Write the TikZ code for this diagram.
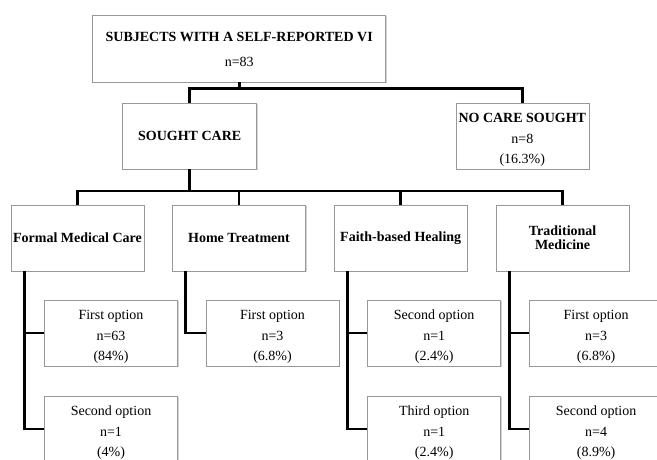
\documentclass[tikz,border=0pt]{standalone}
\usepackage{fontspec}
\setmainfont{Liberation Serif}
\usetikzlibrary{shadows}

% strut that pushes the first text line a bit down
\newcommand{\topgap}{\rule{0pt}{17pt}}

\begin{document}
\begin{tikzpicture}[x=1pt,y=-1pt,
    box/.style={draw=black!40, line width=0.6pt, fill=white, align=center,
      minimum width=133pt, minimum height=66pt, inner sep=0pt,
      font=\fontsize{14}{20.5}\selectfont,
      drop shadow={shadow xshift=1.2pt, shadow yshift=-1.2pt, fill=black!35, opacity=0.5}},
    conn/.style={line width=2.6pt, draw=black}]
    % Picture frame (pixels of the figure)
    \clip (0,0) rectangle (657,459);

    % Layout parameters
    \def\lv{238} % row of the care types
    \def\oa{333} % row of the first options
    \def\ob{429} % row of the second options
    \def\dx{33.5} % shift of an option box from its care type
    \def\vx{13.5} % shift of a branch line from the box edge

    % Top of the tree
    \node[box, minimum width=293pt, minimum height=67pt] (subj) at (239.2,48.5)
      {\rule{0pt}{11.5pt}\textbf{SUBJECTS WITH A SELF-REPORTED VI}\\[4pt]n=83};
    \node[box, minimum width=134pt] (sought) at (189.7,136) {\textbf{SOUGHT CARE}};
    \node[box] (nocare) at (522.3,136) {\topgap\textbf{NO CARE SOUGHT}\\n=8\\(16.3\%)};

    % Types of care
    \node[box] (formal) at (77.5,\lv) {\textbf{Formal Medical Care}};
    \node[box] (home) at (239,\lv) {\textbf{Home Treatment}};
    \node[box] (faith) at (400.7,\lv) {\textbf{Faith-based Healing}};
    \node[box] (trad) at (562.6,\lv) {\textbf{Traditional}\\[-6.5pt]\textbf{Medicine}};

    % Options under each type
    \node[box] (formalA) at (77.5+\dx,\oa) {\topgap First option\\n=63\\(84\%)};
    \node[box] (formalB) at (77.5+\dx,\ob) {\topgap Second option\\n=1\\(4\%)};
    \node[box] (homeA) at (239+\dx,\oa) {\topgap First option\\n=3\\(6.8\%)};
    \node[box] (faithA) at (400.7+\dx,\oa) {\topgap Second option\\n=1\\(2.4\%)};
    \node[box] (faithB) at (400.7+\dx,\ob) {\topgap Third option\\n=1\\(2.4\%)};
    \node[box] (tradA) at (562.6+\dx,\oa) {\topgap First option\\n=3\\(6.8\%)};
    \node[box] (tradB) at (562.6+\dx,\ob) {\topgap Second option\\n=4\\(8.9\%)};

    % Bus lines
    \coordinate (bus1) at (0,88.5);
    \coordinate (bus2) at (0,191);

    % First split
    \draw[conn] (subj.south) -- (subj.south |- bus1);
    \draw[conn] (sought.north) -- (sought.north |- bus1) -| (nocare.north);

    % Second split
    \draw[conn] (sought.south) -- (sought.south |- bus2);
    \draw[conn] (formal.north) -- (formal.north |- bus2) -| (trad.north);
    \draw[conn] (home.north) -- (home.north |- bus2);
    \draw[conn] (faith.north) -- (faith.north |- bus2);

    % Branches to the options
    \draw[conn] ([xshift=\vx pt]formal.south west) |- (formalB.west);
    \draw[conn] ([xshift=\vx pt]formal.south west) |- (formalA.west);
    \draw[conn] ([xshift=\vx pt]home.south west) |- (homeA.west);
    \draw[conn] ([xshift=\vx pt]faith.south west) |- (faithB.west);
    \draw[conn] ([xshift=\vx pt]faith.south west) |- (faithA.west);
    \draw[conn] ([xshift=\vx pt]trad.south west) |- (tradB.west);
    \draw[conn] ([xshift=\vx pt]trad.south west) |- (tradA.west);
\end{tikzpicture}
\end{document}
